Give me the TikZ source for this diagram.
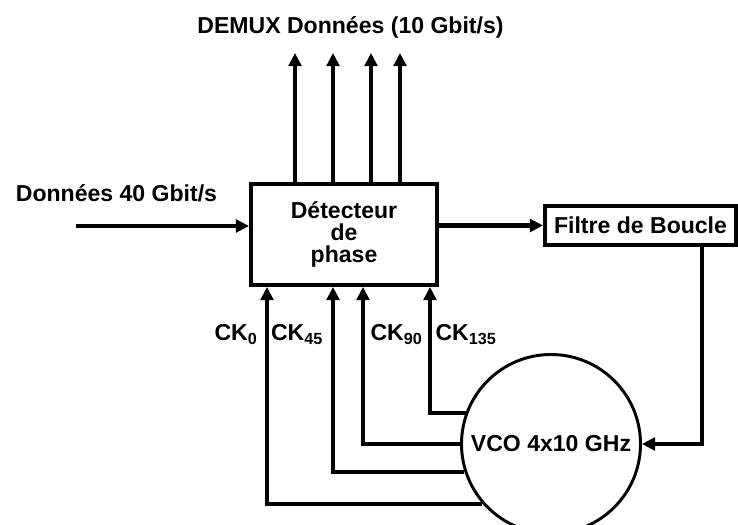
\documentclass[tikz,border=0pt]{standalone}
\usepackage{fontspec}
\setmainfont{Liberation Sans}
\usetikzlibrary{arrows.meta}

\begin{document}
\begin{tikzpicture}[>={Triangle[length=0.33cm,width=0.32cm]}, line width=2.8pt,
    font=\fontsize{16.4pt}{15.8pt}\selectfont\bfseries,
    block/.style={draw, rectangle, align=center, inner sep=0pt},
    osc/.style={draw, circle, line width=2.1pt, minimum size=4.475cm, inner sep=0pt},
    bus/.style={->, line width=3.5pt}]
    \useasboundingbox (0,0) rectangle (18.45,13.1);

    % Nodes
    \node[block, minimum width=4.65cm, minimum height=2.525cm] (det) at (8.6, 7.2375) {Détecteur\\de\\phase};
    \node[block, minimum width=4.775cm, minimum height=0.975cm] (filt) at (16.0125, 7.4625) {Filtre de Boucle};
    \node[osc] (vco) at (13.775, 2.0) {VCO 4x10 GHz};

    % Texts
    \node (titre) at (8.7625, 12.425) {DEMUX Données (10 Gbit/s)};
    \node (entree) at (2.9125, 8.275) {Données 40 Gbit/s};
    \node[anchor=base] (ck0) at (5.9, 4.5875) {CK\textsubscript{0}};
    \node[anchor=base] (ck45) at (7.425, 4.5875) {CK\textsubscript{45}};
    \node[anchor=base] (ck90) at (9.9125, 4.5875) {CK\textsubscript{90}};
    \node[anchor=base] (ck135) at (11.65, 4.5875) {CK\textsubscript{135}};

    % Free ends
    \coordinate (in) at (1.9, 7.45);
    \coordinate (fb) at (17.55, 7.46);
    \foreach \x/\n in {7.375/1, 8.325/2, 9.275/3, 10.0/4}
        \coordinate (out\n) at (\x, 11.775);

    % Edges
    \draw[bus] (in) -- (in -| det.west);
    \draw[bus] (det.east |- filt) -- (filt.west);
    \draw[->] (filt.south -| fb) |- (vco.east);
    \foreach \n in {1,...,4}
        \draw[->] (det.north -| out\n) -- (out\n);
    \foreach \a/\dx in {221.2/-1.925, 198.9/-0.275, 180.6/0.475, 160.4/2.15}
        \draw[->] (vco.\a) -| ([xshift=\dx cm]det.south);
\end{tikzpicture}
\end{document}
